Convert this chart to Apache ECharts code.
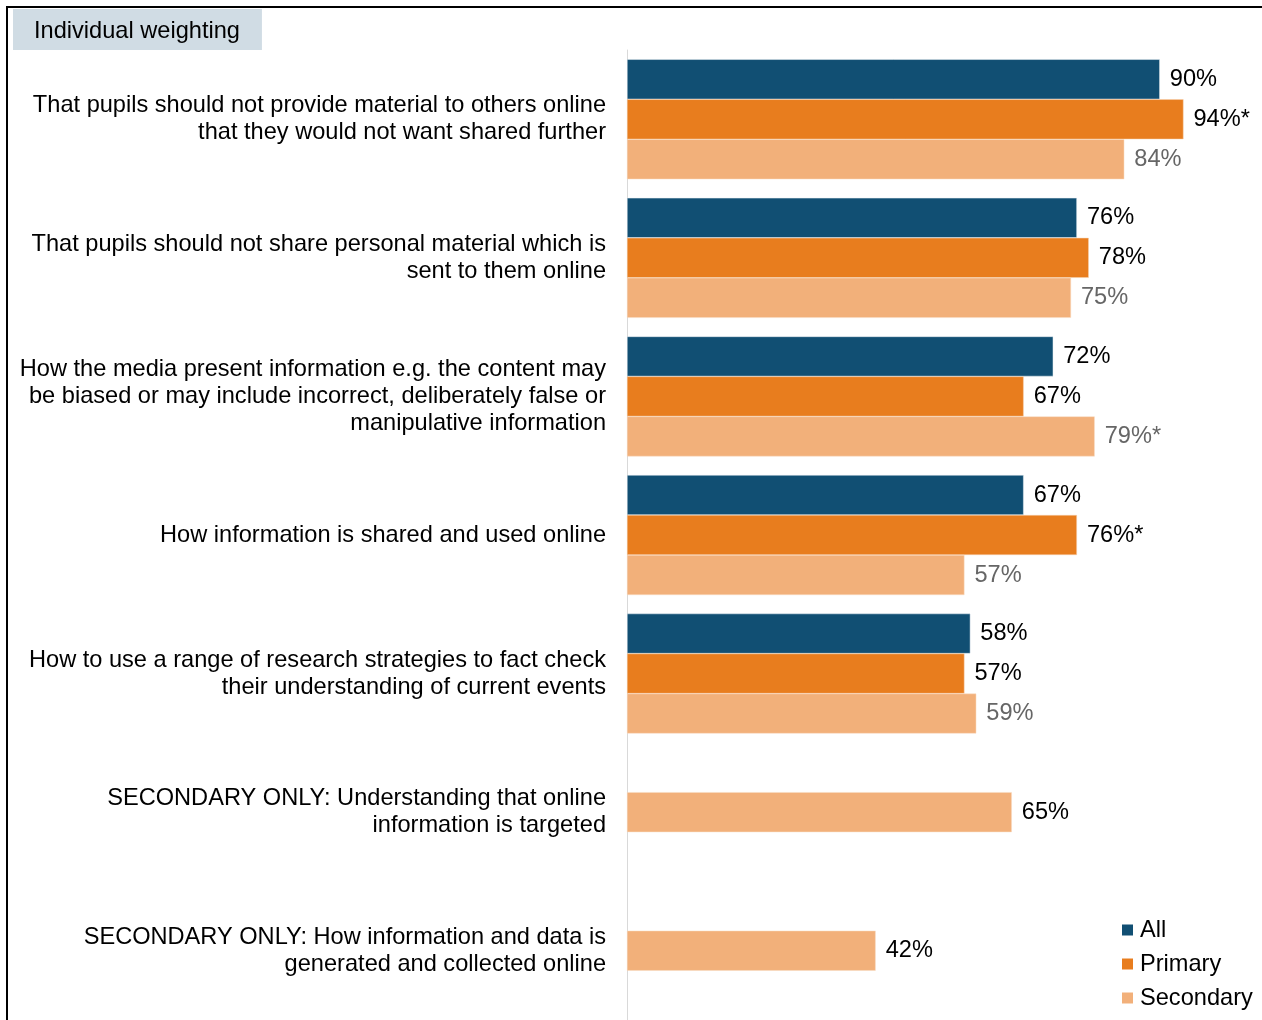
<!DOCTYPE html>
<html>
<head>
<meta charset="utf-8">
<script src="https://cdn.jsdelivr.net/npm/echarts@6/dist/echarts.min.js"></script>
<style>
html,body{margin:0;padding:0;background:#fff;}
#chart{width:1262px;height:1020px;}
</style>
</head>
<body>
<div id="chart"></div>
<script>
var categories = [
  'That pupils should not provide material to others online\nthat they would not want shared further',
  'That pupils should not share personal material which is\nsent to them online',
  'How the media present information e.g. the content may\nbe biased or may include incorrect, deliberately false or\nmanipulative information',
  'How information is shared and used online',
  'How to use a range of research strategies to fact check\ntheir understanding of current events',
  'SECONDARY ONLY: Understanding that online\ninformation is targeted',
  'SECONDARY ONLY: How information and data is\ngenerated and collected online'
];
var allValues       = [90, 76, 72, 67, 58, null, null];
var primaryValues   = [94, 78, 67, 76, 57, null, null];
var secondaryValues = [84, 75, 79, 57, 59, null, null];
var secondaryOnlyValues = [null, null, null, null, null, 65, 42];
var allSig       = [false, false, false, false, false, false, false];
var primarySig   = [true, false, false, true, false, false, false];
var secondarySig = [false, false, true, false, false, false, false];
var seriesNames = ['All', 'Primary', 'Secondary'];
var titleText = 'Individual weighting';

var FONT = '"Liberation Sans", Arial, sans-serif';
var FS = 23.6;

function fmt(sig) {
  return function (p) {
    if (p.value == null || p.value === '-') return '';
    return p.value + '%' + (sig[p.dataIndex] ? '*' : '');
  };
}
function lbl(sig, color) {
  return {
    show: true, position: 'right', distance: 10,
    fontFamily: FONT, fontSize: FS, color: color,
    padding: [2, 0, 0, 0],
    formatter: fmt(sig)
  };
}

var chart = echarts.init(document.getElementById('chart'), null, {renderer: 'canvas'});
chart.setOption({
  animation: false,
  backgroundColor: '#ffffff',
  title: {
    text: titleText,
    left: 13, top: 9,
    padding: [9, 22, 5, 21],
    backgroundColor: '#d0dce4',
    textStyle: {fontFamily: FONT, fontSize: FS, fontWeight: 'normal', color: '#000', lineHeight: 27}
  },
  legend: {
    data: seriesNames,
    orient: 'vertical',
    left: 1122, top: 917,
    padding: 0,
    itemWidth: 11, itemHeight: 11,
    itemGap: 8,
    icon: 'rect',
    itemStyle: {borderWidth: 0},
    textStyle: {fontFamily: FONT, fontSize: FS, color: '#000', lineHeight: 26, padding: [0, 0, 0, 2]}
  },
  grid: {left: 627, right: 43, top: 50, bottom: 0, containLabel: false},
  xAxis: {
    type: 'value', min: 0, max: 100, show: false,
    splitLine: {show: false}
  },
  yAxis: {
    type: 'category', data: categories, inverse: true,
    axisLine: {show: true, lineStyle: {color: '#d9d9d9', width: 1}},
    axisTick: {show: false},
    axisLabel: {
      margin: 21, align: 'right',
      fontFamily: FONT, fontSize: FS, color: '#000', lineHeight: 27,
      padding: [3, 0, 0, 0]
    }
  },
  graphic: [
    {type: 'line', shape: {x1: 6, y1: 7, x2: 1262, y2: 7}, style: {stroke: '#000', lineWidth: 2}, z: 100},
    {type: 'line', shape: {x1: 7, y1: 6, x2: 7, y2: 1020}, style: {stroke: '#000', lineWidth: 2}, z: 100}
  ],
  series: [
    {
      name: seriesNames[0], type: 'bar', data: allValues,
      barWidth: 40, barGap: '0%',
      itemStyle: {color: '#114f73', borderColor: '#e8eef2', borderWidth: 0.5},
      label: lbl(allSig, '#000')
    },
    {
      name: seriesNames[1], type: 'bar', data: primaryValues, stack: 'mid',
      barWidth: 40, barGap: '0%',
      itemStyle: {color: '#e87d1e', borderColor: '#f6d2b0', borderWidth: 0.5},
      label: lbl(primarySig, '#000')
    },
    {
      name: seriesNames[2], type: 'bar', data: secondaryOnlyValues, stack: 'mid',
      barWidth: 40, barGap: '0%',
      itemStyle: {color: '#f2b07a', borderColor: '#f8dcc4', borderWidth: 0.5},
      label: lbl(secondarySig, '#000')
    },
    {
      name: seriesNames[2], type: 'bar', data: secondaryValues,
      barWidth: 40, barGap: '0%',
      itemStyle: {color: '#f2b07a', borderColor: '#f8dcc4', borderWidth: 0.5},
      label: lbl(secondarySig, '#666666')
    }
  ]
});
</script>
</body>
</html>
